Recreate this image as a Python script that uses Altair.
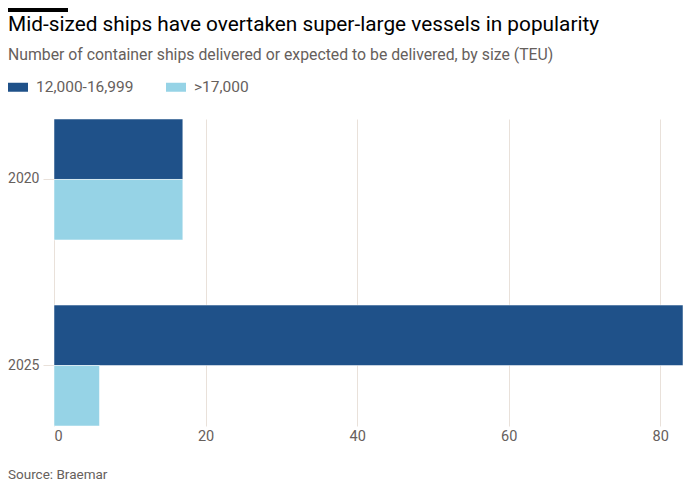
import altair as alt
import pandas as pd

years = ["2020", "2025"]
series = ["12,000-16,999", ">17,000"]
mid_values = [17, 83]
large_values = [17, 6]
colors = ["#1f5189", "#96d3e6"]
x_ticks = [0, 20, 40, 60, 80]

title = "Mid-sized ships have overtaken super-large vessels in popularity"
subtitle = "Number of container ships delivered or expected to be delivered, by size (TEU)"
source = "Source: Braemar"

rows = []
for i, y in enumerate(years):
    rows.append({"year": y, "series": series[0], "value": mid_values[i]})
    rows.append({"year": y, "series": series[1], "value": large_values[i]})
df = pd.DataFrame(rows)

FONT = "Roboto"
TEXT = "#66605c"
GRID = "#e9e1da"

bars = alt.Chart(df).mark_bar(stroke="white", strokeWidth=0.5).encode(
    x=alt.X("value:Q", scale=alt.Scale(domain=[0, 83], nice=False),
            axis=alt.Axis(values=x_ticks, title=None, domain=False, ticks=False,
                          grid=True, gridColor=GRID, labelPadding=3,
                          labelFontSize=14.5, labelColor=TEXT, labelFont=FONT)),
    y=alt.Y("year:N", sort=years,
            scale=alt.Scale(paddingInner=0.35, paddingOuter=0),
            axis=alt.Axis(title=None, domain=False, ticks=True, tickSize=11,
                          tickColor=GRID, labelPadding=4, labelFontSize=14,
                          labelColor=TEXT, labelFont=FONT)),
    yOffset=alt.YOffset("series:N", sort=series,
                        scale=alt.Scale(paddingInner=0, paddingOuter=0)),
    color=alt.Color("series:N", sort=series,
                    scale=alt.Scale(domain=series, range=colors),
                    legend=alt.Legend(title=None, orient="none", legendX=-46, legendY=-42,
                                      direction="horizontal",
                                      symbolType="M-1,-0.45L1,-0.45L1,0.45L-1,0.45Z",
                                      symbolSize=400, symbolStrokeWidth=0,
                                      symbolOpacity=1,
                                      labelFontSize=15.5, labelColor=TEXT, labelFont=FONT,
                                      columnPadding=32, labelOffset=8)),
)

one = pd.DataFrame({"a": [0]})

def txt(s, x, y, size, color, weight="normal"):
    return alt.Chart(one).mark_text(text=s, align="left", baseline="alphabetic",
                                    fontSize=size, color=color, font=FONT,
                                    fontWeight=weight).encode(
        x=alt.value(x), y=alt.value(y))

t1 = txt(title, -46, -88, 20.8, "#000000")
t2 = txt(subtitle, -46, -59, 15.8, TEXT)
t3 = txt(source, -46, 360, 13.5, TEXT)

topbar = alt.Chart(one).mark_rule(color="#000000", strokeWidth=4).encode(
    x=alt.value(-46), x2=alt.value(14), y=alt.value(-109))

chart = alt.layer(bars, t1, t2, t3, topbar).properties(
    width=629, height=307,
    background="white",
    autosize=alt.AutoSizeParams(type="none"),
    padding={"left": 46, "top": 111, "right": 8, "bottom": 60},
).configure_view(strokeWidth=0, stroke=None)

chart.save("out.html", embed_options={"renderer": "svg", "actions": False})
